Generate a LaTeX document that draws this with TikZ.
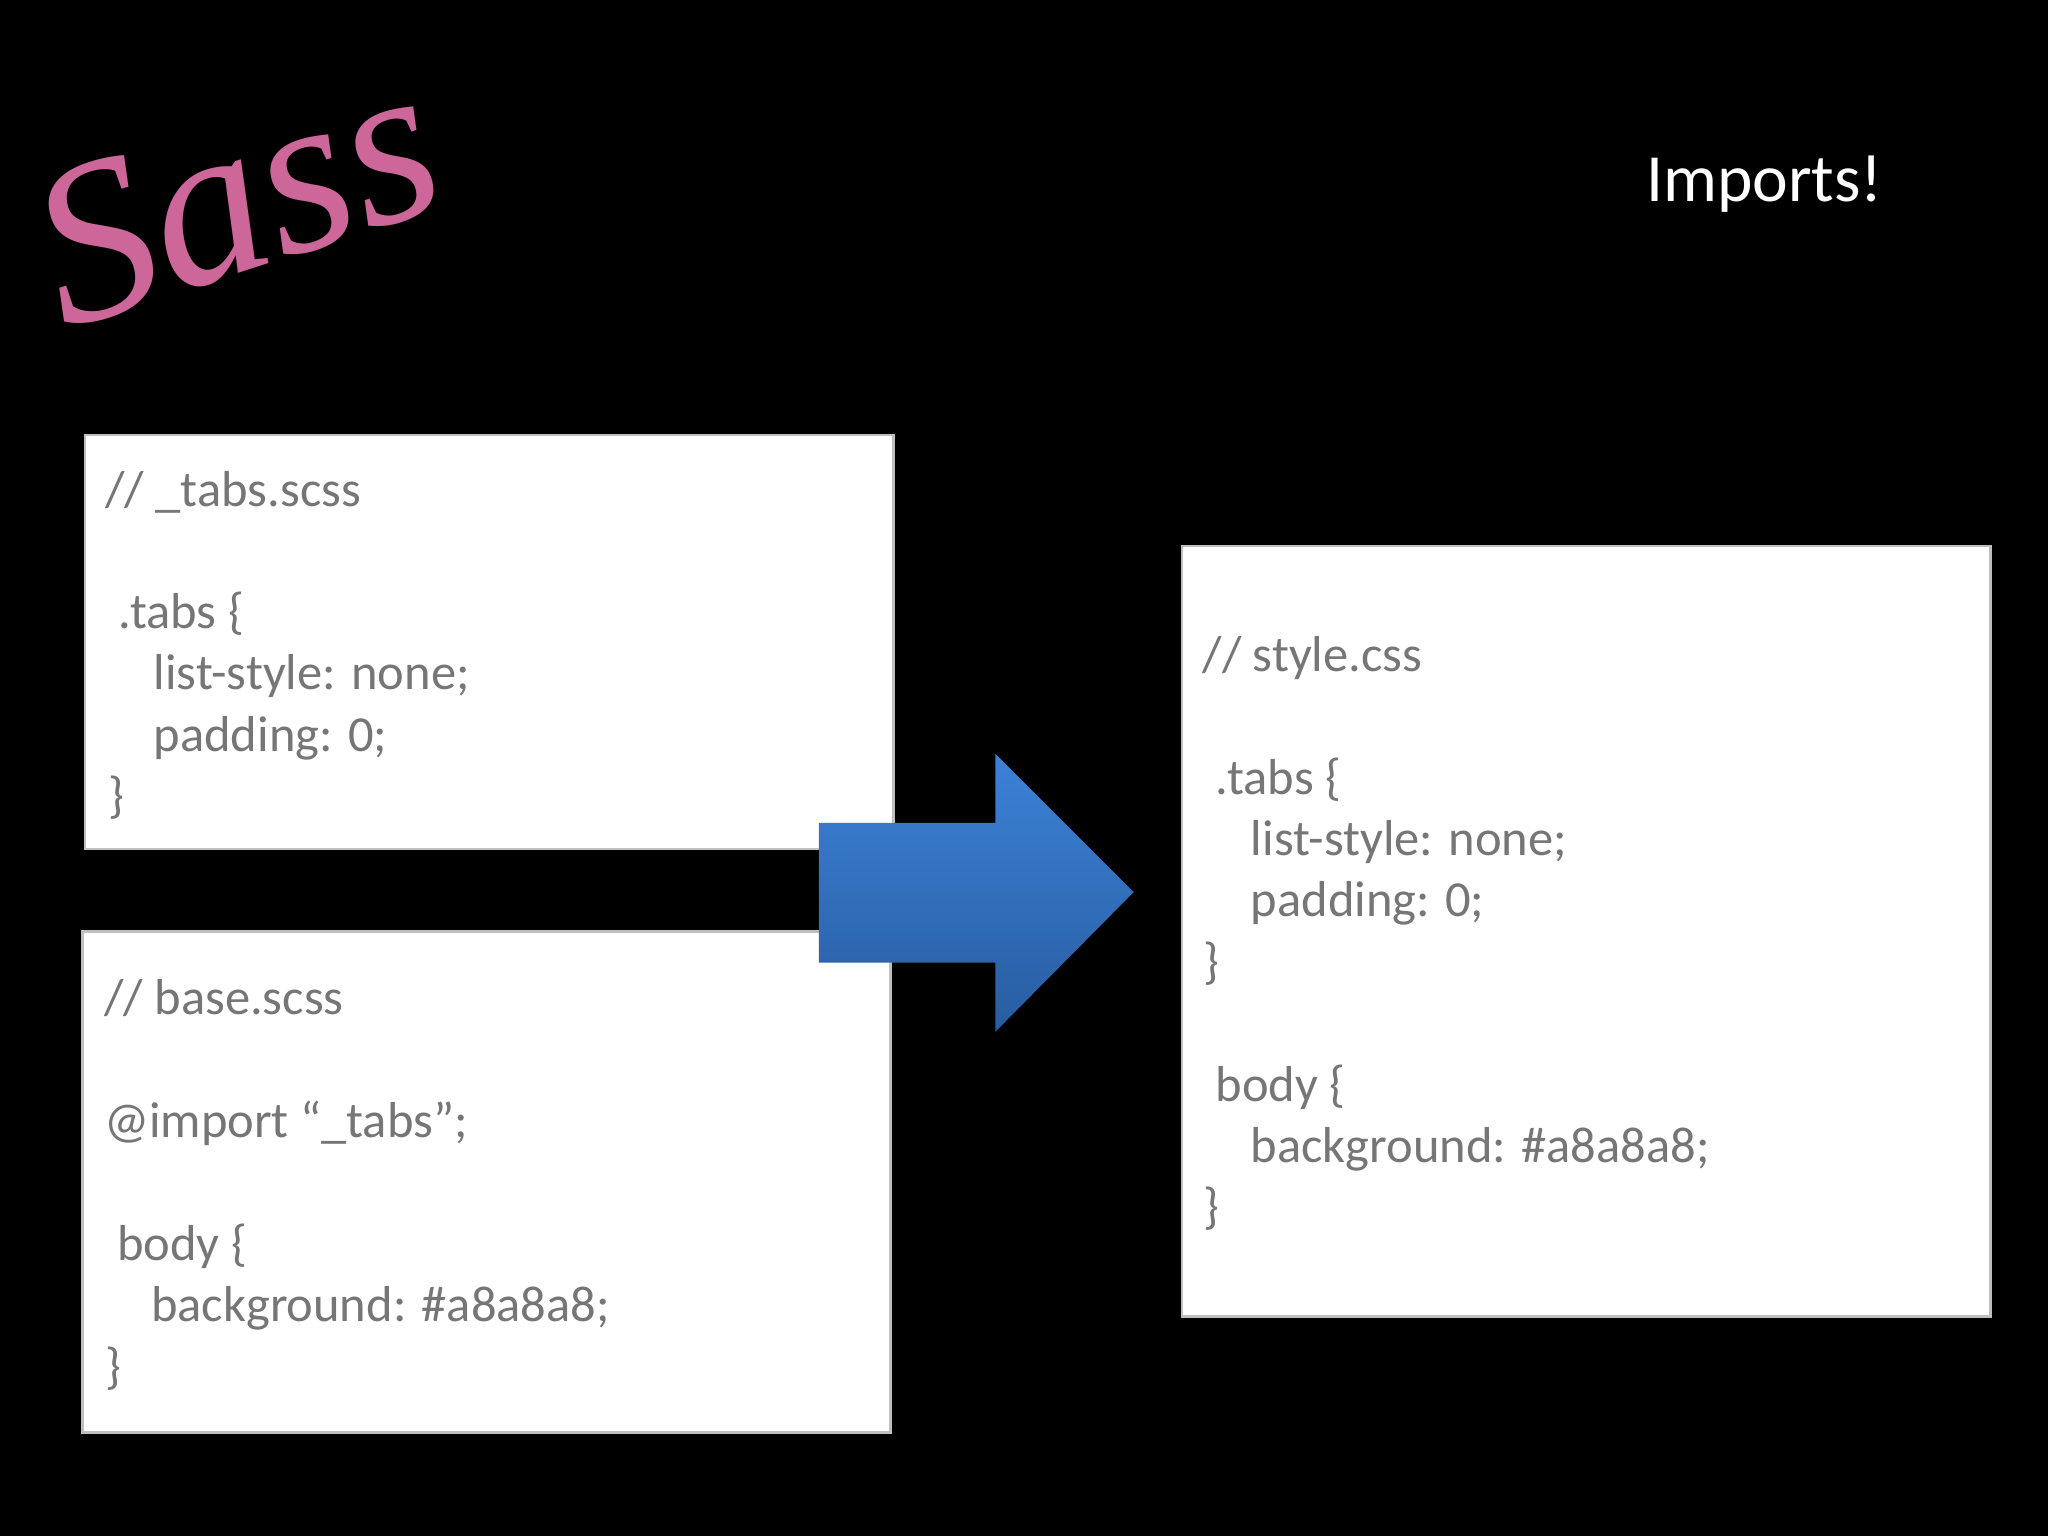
\documentclass[tikz,border=0pt]{standalone}
\usepackage{fontspec}
\setmainfont{Carlito}
\newfontfamily\logofont{Liberation Serif}
\usetikzlibrary{shadings}
\definecolor{codegray}{HTML}{767676}
\definecolor{sasspink}{HTML}{CD6799}
\begin{document}
\begin{tikzpicture}[x=0.01cm,y=-0.01cm,
  codebox/.style={draw=black!25,fill=white,line width=0.6pt},
  code/.style={anchor=base west,inner sep=0pt,text=codegray,font=\fontsize{11pt}{13.35pt}\selectfont}]
\fill[black] (0,0) rectangle (1568,1176);
\useasboundingbox (0,0) rectangle (1568,1176);
% logo
\node[text=sasspink,font=\logofont\fontsize{50pt}{50pt}\selectfont\itshape,rotate=18] (logo) at (180,150) {Sass};
\node[text=white,anchor=base,font=\fontsize{14.7pt}{17pt}\selectfont] (title) at (1351,154) {Imports!};
% boxes
\draw[codebox] (65,333) rectangle (684,650);
\draw[codebox] (63,713) rectangle (682,1097);
\draw[codebox] (905,418) rectangle (1524,1008);
% arrow
\shade[top color={rgb,255:red,60;green,130;blue,215}, bottom color={rgb,255:red,40;green,92;blue,160}]
  (627,630) -- (762,630) -- (762,577) -- (868,683) -- (762,790) -- (762,737) -- (627,737) -- cycle;
% tabs box
\node[code] (a1) at (80,388) {// \_tabs.scss};
\node[code] (a2) at (90,481) {.tabs \{};
\node[code] (a3) at (117,528) {list-style: none;};
\node[code] (a4) at (117,575) {padding: 0;};
\node[code] (a5) at (82,622) {\}};
% base box
\node[code] (b1) at (79,777) {// base.scss};
\node[code] (b2) at (79,871) {@import “\_tabs”;};
\node[code] (b3) at (89,965) {body \{};
\node[code] (b4) at (115,1012) {background: \#a8a8a8;};
\node[code] (b5) at (80,1059) {\}};
% style box
\node[code] (c1) at (920,514) {// style.css};
\node[code] (c2) at (930,608) {.tabs \{};
\node[code] (c3) at (957,655) {list-style: none;};
\node[code] (c4) at (957,702) {padding: 0;};
\node[code] (c5) at (921,749) {\}};
\node[code] (c6) at (930,843) {body \{};
\node[code] (c7) at (957,890) {background: \#a8a8a8;};
\node[code] (c8) at (921,937) {\}};
\end{tikzpicture}
\end{document}
